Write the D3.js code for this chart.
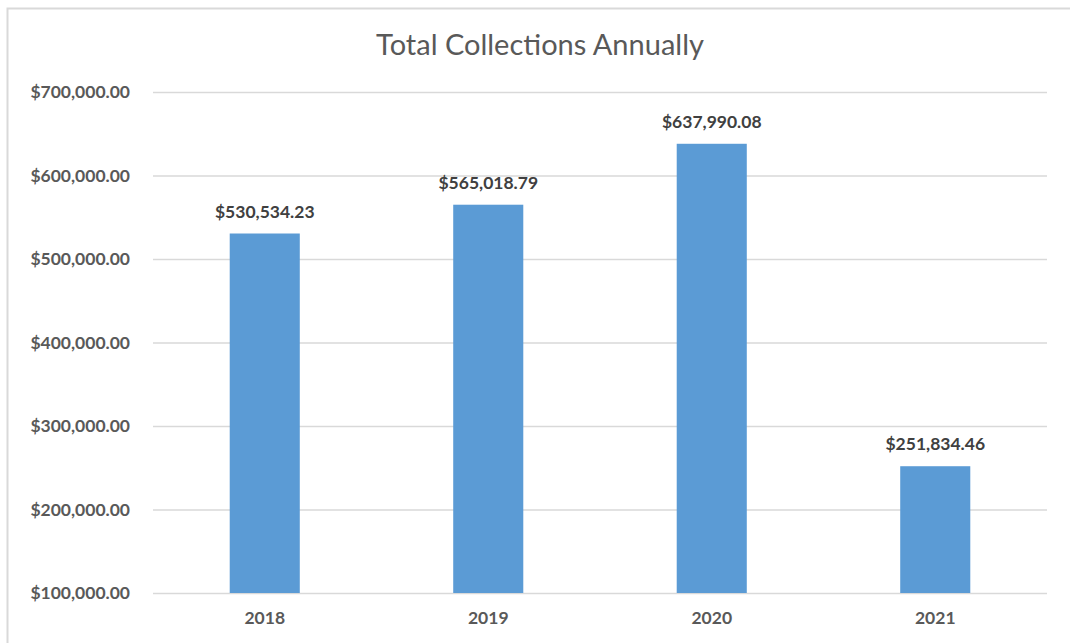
<!DOCTYPE html>
<html>
<head>
<meta charset="utf-8">
<script src="https://cdn.jsdelivr.net/npm/d3@7"></script>
<style>
  body { margin: 0; background: #fff; }
  text { font-family: Lato, "Open Sans", sans-serif; }
</style>
</head>
<body>
<div id="chart"></div>
<script>
var W = 1070, H = 643;

var years = ['2018', '2019', '2020', '2021'];
var totals = [530534.23, 565018.79, 637990.08, 251834.46];
var yTicks = [100000, 200000, 300000, 400000, 500000, 600000, 700000];

var margin = {top: 92, right: 23, bottom: 50, left: 153};

var svg = d3.select('#chart')
  .append('svg')
  .attr('width', W)
  .attr('height', H);

// chart frame
svg.append('rect')
  .attr('x', 7.5)
  .attr('y', 8.5)
  .attr('width', W + 10)
  .attr('height', H + 10)
  .attr('fill', '#fff')
  .attr('stroke', '#d9d9d9')
  .attr('stroke-width', 2);

var x = d3.scaleBand()
  .domain(years)
  .range([margin.left, W - margin.right])
  .paddingInner(0.6865)
  .paddingOuter(0.6865 / 2);

var y = d3.scaleLinear()
  .domain([100000, 700000])
  .range([H - margin.bottom, margin.top]);

var money = d3.format('$,.2f');

// y axis (gridlines + labels)
var yAxis = svg.append('g')
  .attr('transform', 'translate(' + margin.left + ',0)')
  .call(d3.axisLeft(y)
    .tickValues(yTicks)
    .tickSize(-(W - margin.left - margin.right))
    .tickPadding(23)
    .tickFormat(money));

yAxis.select('.domain').remove();
yAxis.selectAll('.tick line')
  .attr('stroke', '#d9d9d9')
  .attr('stroke-width', 1.6);
yAxis.selectAll('.tick text')
  .attr('fill', '#595959')
  .attr('font-size', 17.5)
  .attr('font-weight', 'bold')
  .style('font-family', 'Lato, sans-serif');

// x axis labels
var xAxis = svg.append('g')
  .attr('transform', 'translate(0,' + (H - margin.bottom) + ')')
  .call(d3.axisBottom(x).tickSize(0).tickPadding(18.5));

xAxis.select('.domain').remove();
xAxis.selectAll('.tick text')
  .attr('fill', '#595959')
  .attr('font-size', 17.5)
  .attr('font-weight', 'bold')
  .style('font-family', 'Lato, sans-serif');

// bars
svg.selectAll('.bar')
  .data(totals)
  .enter()
  .append('rect')
  .attr('class', 'bar')
  .attr('x', function(d, i) { return x(years[i]); })
  .attr('width', x.bandwidth())
  .attr('y', function(d) { return y(d); })
  .attr('height', function(d) { return y(100000) - y(d); })
  .attr('fill', '#5b9bd5');

// data labels
svg.selectAll('.lbl')
  .data(totals)
  .enter()
  .append('text')
  .attr('class', 'lbl')
  .attr('x', function(d, i) { return x(years[i]) + x.bandwidth() / 2; })
  .attr('y', function(d) { return y(d) - 16; })
  .attr('text-anchor', 'middle')
  .attr('fill', '#404040')
  .attr('font-size', 17.5)
  .attr('font-weight', 'bold')
  .text(function(d) { return money(d); });

// title
svg.append('text')
  .attr('x', 540)
  .attr('y', 55)
  .attr('text-anchor', 'middle')
  .attr('fill', '#595959')
  .attr('font-size', 29)
  .text('Total Collections Annually');
</script>
</body>
</html>
